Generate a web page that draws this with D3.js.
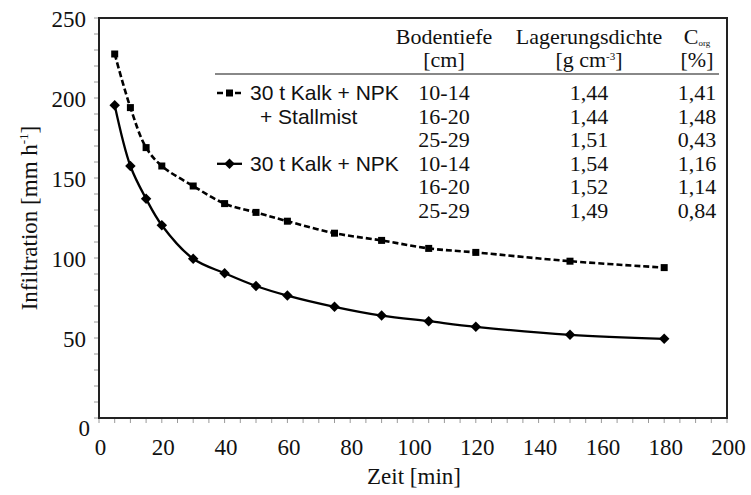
<!DOCTYPE html>
<html>
<head>
<meta charset="utf-8">
<script src="https://cdn.jsdelivr.net/npm/d3@7"></script>
<style>
  html, body { margin: 0; padding: 0; background: #fff; }
  svg { display: block; }
  .serif { font-family: "Liberation Serif", "Times New Roman", serif; fill: #111; }
  .sans { font-family: "Liberation Sans", Arial, sans-serif; fill: #111; }
</style>
</head>
<body>
<svg id="chart" width="751" height="495"></svg>
<script>
// Measurement times [min]
const zeit = [5, 10, 15, 20, 30, 40, 50, 60, 75, 90, 105, 120, 150, 180];
// Infiltration [mm h-1]: 30 t Kalk + NPK + Stallmist
const mitStallmist = [227.5, 194, 169, 157.5, 145, 134, 128.5, 123, 115.5, 111, 106, 103.5, 98, 94];
// Infiltration [mm h-1]: 30 t Kalk + NPK
const ohneStallmist = [195.5, 157.5, 137, 120.5, 99.5, 90.5, 82.5, 76.5, 69.5, 64, 60.5, 57, 52, 49.5];

const xTicks = [0, 20, 40, 60, 80, 100, 120, 140, 160, 180, 200];
const yTicks = [0, 50, 100, 150, 200, 250];

// Soil property table next to the legend
const tiefe = ["10-14", "16-20", "25-29", "10-14", "16-20", "25-29"];
const dichte = ["1,44", "1,44", "1,51", "1,54", "1,52", "1,49"];
const corg = ["1,41", "1,48", "0,43", "1,16", "1,14", "0,84"];

const svg = d3.select("#chart");
const L = 99, R = 727, T = 18, B = 418;

const x = d3.scaleLinear().domain([0, 200]).range([L, R]);
const y = d3.scaleLinear().domain([0, 250]).range([B, T]);

// minor tick marks
const minor = svg.append("g").attr("stroke", "#9a9a9a").attr("stroke-width", 1);
minor.selectAll("line.mx").data(d3.range(0, 201, 5)).join("line")
  .attr("x1", d => x(d)).attr("x2", d => x(d))
  .attr("y1", B).attr("y2", B + 5);
minor.selectAll("line.my").data(d3.range(0, 251, 10)).join("line")
  .attr("y1", d => y(d)).attr("y2", d => y(d))
  .attr("x1", L - 5).attr("x2", L);

// axes (labels only, frame drawn separately)
const xAxis = svg.append("g").attr("transform", `translate(0,${B})`)
  .call(d3.axisBottom(x).tickValues(xTicks).tickSize(0).tickPadding(21));
xAxis.select(".domain").remove();
xAxis.selectAll("text").attr("class", "serif").attr("font-size", 23).attr("dx", 1);

const yAxis = svg.append("g").attr("transform", `translate(${L},0)`)
  .call(d3.axisLeft(y).tickValues(yTicks).tickSize(0).tickPadding(13));
yAxis.select(".domain").remove();
yAxis.selectAll("text").attr("class", "serif").attr("font-size", 23)
  .attr("dy", d => d === 0 ? "0.78em" : "0.35em")
  .attr("dx", d => d === 0 ? 4 : 0);

// plot frame
svg.append("rect").attr("x", L).attr("y", T).attr("width", R - L).attr("height", B - T)
  .attr("fill", "none").attr("stroke", "#222").attr("stroke-width", 2);

// axis titles
svg.append("text").attr("class", "serif").attr("font-size", 23)
  .attr("x", 414).attr("y", 484).attr("text-anchor", "middle").text("Zeit [min]");

const yt = svg.append("text").attr("class", "serif").attr("font-size", 23)
  .attr("transform", `translate(37,${(T + B) / 2}) rotate(-90)`).attr("text-anchor", "middle");
yt.append("tspan").text("Infiltration [mm h");
yt.append("tspan").attr("font-size", 13).attr("dy", -9).text("-1");
yt.append("tspan").attr("dy", 9).text("]");

// series
const line = d3.line().x(d => x(d[0])).y(d => y(d[1])).curve(d3.curveCatmullRom.alpha(0.5));
const dA = zeit.map((t, i) => [t, mitStallmist[i]]);
const dB = zeit.map((t, i) => [t, ohneStallmist[i]]);

svg.append("path").datum(dA).attr("d", line).attr("fill", "none")
  .attr("stroke", "#000").attr("stroke-width", 2.6).attr("stroke-dasharray", "6,3");
svg.append("path").datum(dB).attr("d", line).attr("fill", "none")
  .attr("stroke", "#000").attr("stroke-width", 2.3);

const sq = 7;
svg.append("g").selectAll("rect").data(dA).join("rect")
  .attr("x", d => x(d[0]) - sq / 2).attr("y", d => y(d[1]) - sq / 2)
  .attr("width", sq).attr("height", sq).attr("fill", "#000");

const diamond = d3.symbol().type(d3.symbolDiamond2).size(70);
svg.append("g").selectAll("path").data(dB).join("path")
  .attr("transform", d => `translate(${x(d[0])},${y(d[1])})`)
  .attr("d", diamond).attr("fill", "#000");

// legend table
const c1 = 444, c2 = 589, c3 = 697;
const hdr = svg.append("g").attr("class", "serif").attr("font-size", 22).attr("text-anchor", "middle");
hdr.append("text").attr("x", c1).attr("y", 44).text("Bodentiefe");
hdr.append("text").attr("x", c1).attr("y", 67).text("[cm]");
hdr.append("text").attr("x", c2).attr("y", 44).text("Lagerungsdichte");
const gcm = hdr.append("text").attr("x", c2).attr("y", 67);
gcm.append("tspan").text("[g cm");
gcm.append("tspan").attr("font-size", 11).attr("dy", -7).text("-3");
gcm.append("tspan").attr("dy", 7).text("]");
const co = hdr.append("text").attr("x", c3).attr("y", 44);
co.append("tspan").text("C");
co.append("tspan").attr("font-size", 9).attr("dy", 2).text("org");
hdr.append("text").attr("x", c3).attr("y", 67).text("[%]");

svg.append("line").attr("x1", 215).attr("x2", 719).attr("y1", 74).attr("y2", 74)
  .attr("stroke", "#888").attr("stroke-width", 2);

const rowY = i => 100 + i * 23.6;
const rows = svg.append("g").attr("class", "serif").attr("font-size", 22).attr("text-anchor", "middle");
rows.selectAll("text.t").data(tiefe).join("text").attr("x", c1).attr("y", (d, i) => rowY(i)).text(d => d);
rows.selectAll("text.d").data(dichte).join("text").attr("x", c2).attr("y", (d, i) => rowY(i)).text(d => d);
rows.selectAll("text.c").data(corg).join("text").attr("x", c3).attr("y", (d, i) => rowY(i)).text(d => d);

// legend entries
const lg = svg.append("g");
lg.append("line").attr("x1", 217).attr("x2", 242).attr("y1", rowY(0) - 7).attr("y2", rowY(0) - 7)
  .attr("stroke", "#000").attr("stroke-width", 2.6).attr("stroke-dasharray", "6,3");
lg.append("rect").attr("x", 229.5 - sq / 2).attr("y", rowY(0) - 7 - sq / 2).attr("width", sq).attr("height", sq);
lg.append("line").attr("x1", 217).attr("x2", 242).attr("y1", rowY(3) - 7).attr("y2", rowY(3) - 7)
  .attr("stroke", "#000").attr("stroke-width", 2.3);
lg.append("path").attr("transform", `translate(229.5,${rowY(3) - 7})`).attr("d", diamond);

const lt = svg.append("g").attr("class", "sans").attr("font-size", 21);
lt.append("text").attr("x", 250).attr("y", rowY(0)).text("30 t Kalk + NPK");
lt.append("text").attr("x", 260).attr("y", rowY(1)).text("+ Stallmist");
lt.append("text").attr("x", 250).attr("y", rowY(3)).text("30 t Kalk + NPK");
</script>
</body>
</html>
